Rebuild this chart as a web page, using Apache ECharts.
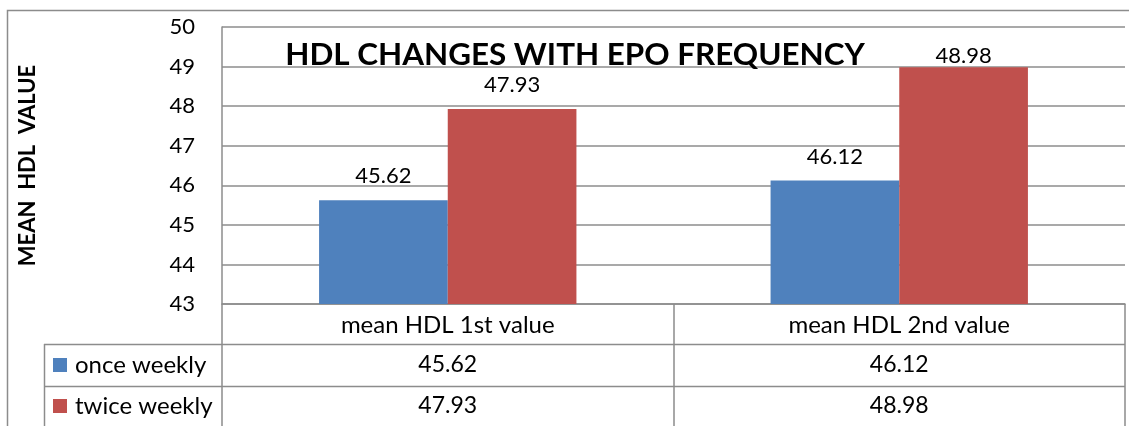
<!DOCTYPE html>
<html>
<head>
<meta charset="utf-8">
<script src="https://cdn.jsdelivr.net/npm/echarts@6/dist/echarts.min.js"></script>
<style>
html, body { margin: 0; padding: 0; background: #fff; }
#chart { width: 1129px; height: 426px; }
</style>
</head>
<body>
<div id="chart"></div>
<script>
// data
const categories = ['mean HDL 1st value', 'mean HDL 2nd value']
const seriesNames = ['once weekly', 'twice weekly']
const onceWeekly = [45.62, 46.12]
const twiceWeekly = [47.93, 48.98]
const yTicks = [43, 44, 45, 46, 47, 48, 49, 50]

const colors = ['#4F81BD', '#C0504D']
const lineColor = '#8c8c8c'
const FONT = 'Lato'

// plot box in px
const plotLeft = 222, plotRight = 1125, plotTop = 27, plotBottom = 304
const tableLeft = 44
const rowLines = [344, 386] // horizontal lines of the data table
const rowCenters = [365, 406]

const chart = echarts.init(document.getElementById('chart'))

function tableGraphics() {
  const g = []
  const catW = (plotRight - plotLeft) / categories.length
  // outer border of chart area
  g.push({ type: 'polyline', shape: { points: [[7.5, 440], [7.5, 10.5], [1140, 10.5]] },
    style: { stroke: lineColor, lineWidth: 1.5, fill: null } })
  // horizontal table lines
  rowLines.forEach(y => {
    g.push({ type: 'line', shape: { x1: tableLeft, y1: y + 0.5, x2: plotRight, y2: y + 0.5 },
      style: { stroke: lineColor, lineWidth: 1.5 } })
  })
  // left edge of legend column
  g.push({ type: 'line', shape: { x1: tableLeft + 0.5, y1: rowLines[0], x2: tableLeft + 0.5, y2: 430 },
    style: { stroke: lineColor, lineWidth: 1.5 } })
  const allData = [onceWeekly, twiceWeekly]
  seriesNames.forEach((name, r) => {
    const cy = rowCenters[r]
    g.push({ type: 'rect', shape: { x: 53, y: cy - 7, width: 14, height: 14 },
      style: { fill: colors[r] } })
    g.push({ type: 'text', x: 75, y: cy,
      style: { text: name, font: '24px ' + FONT, fill: '#000', verticalAlign: 'middle', textAlign: 'left' } })
    allData[r].forEach((v, c) => {
      g.push({ type: 'text', x: plotLeft + (c + 0.5) * catW, y: cy,
        style: { text: v.toFixed(2), font: '23px ' + FONT, fill: '#000', verticalAlign: 'middle', textAlign: 'center' } })
    })
  })
  return g
}

const labelStyle = {
  show: true,
  position: 'top',
  distance: 13,
  color: '#000',
  fontFamily: FONT,
  fontSize: 22,
  formatter: p => p.value.toFixed(2),
}

const option = {
  animation: false,
  backgroundColor: '#fff',
  textStyle: { fontFamily: FONT },
  title: {
    text: 'HDL CHANGES WITH EPO FREQUENCY',
    left: 570,
    top: 34,
    textAlign: 'center',
    textStyle: { fontFamily: FONT, fontWeight: 'bold', fontSize: 31.4, color: '#000' },
  },
  grid: {
    left: plotLeft,
    right: 1129 - plotRight,
    top: plotTop,
    bottom: 426 - plotBottom,
    containLabel: false,
  },
  xAxis: {
    type: 'category',
    data: categories,
    axisLine: { show: true, lineStyle: { color: lineColor, width: 1.5 } },
    axisTick: { show: true, length: 130, alignWithLabel: false, lineStyle: { color: lineColor, width: 1.5 } },
    axisLabel: { color: '#000', fontFamily: FONT, fontSize: 24, margin: 9, lineHeight: 24 },
    splitLine: { show: false },
  },
  yAxis: {
    type: 'value',
    min: yTicks[0],
    max: yTicks[yTicks.length - 1],
    interval: 1,
    name: 'MEAN  HDL  VALUE',
    nameLocation: 'middle',
    nameRotate: 90,
    nameGap: 183,
    nameTextStyle: { color: '#000', fontFamily: FONT, fontWeight: 'bold', fontSize: 22 },
    axisLine: { show: true, lineStyle: { color: lineColor, width: 1.5 } },
    axisTick: { show: false },
    axisLabel: { color: '#000', fontFamily: FONT, fontSize: 22, margin: 27 },
    splitLine: { show: true, lineStyle: { color: lineColor, width: 1.5 } },
  },
  series: [
    {
      name: seriesNames[0],
      type: 'bar',
      data: onceWeekly,
      barGap: '0%',
      barCategoryGap: '43%',
      itemStyle: { color: colors[0] },
      label: labelStyle,
    },
    {
      name: seriesNames[1],
      type: 'bar',
      // the label of the tallest bar sits close to its top in the reference
      data: twiceWeekly.map((v, i) => (i === 1 ? { value: v, label: { distance: 0 } } : v)),
      barGap: '0%',
      barCategoryGap: '43%',
      itemStyle: { color: colors[1] },
      label: labelStyle,
    },
  ],
  graphic: tableGraphics(),
}

chart.setOption(option)
</script>
</body>
</html>
